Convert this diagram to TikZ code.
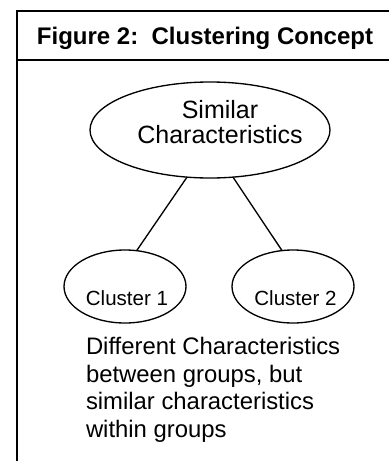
\documentclass[tikz,border=0pt]{standalone}
\usepackage{fontspec}
\setmainfont{Liberation Sans}
\usetikzlibrary{shapes.geometric}
\begin{document}
\begin{tikzpicture}[x=0.75pt,y=-0.75pt,
  frameline/.style={line width=1.5pt,line cap=rect},
  bubble/.style={draw,ellipse,inner sep=0pt,outer sep=0pt,line width=1pt},
  link/.style={line width=1pt},
  txt/.style={inner sep=0pt,outer sep=0pt}]
\useasboundingbox (0,0) rectangle (389,461);
% frame
\coordinate (tl) at (17,11);
\coordinate (tr) at (392,11);
\coordinate (hl) at (17,60);
\coordinate (hr) at (392,60);
\coordinate (bl) at (17,464);
\draw[frameline] (tr) -- (tl) -- (bl);
\draw[frameline] (hl) -- (hr);
\node[txt,anchor=base,font=\fontsize{18}{21}\selectfont\bfseries] (title) at (205,44) {Figure 2:\ \ Clustering Concept};
% ellipses
\node[bubble,minimum width=180pt,minimum height=72pt] (top) at (210,130) {};
\node[bubble,minimum width=91.5pt,minimum height=54.75pt] (c1) at (125,286.5) {};
\node[bubble,minimum width=91.5pt,minimum height=54.75pt] (c2) at (293,286.5) {};
% texts
\node[txt,anchor=base,align=center,font=\fontsize{18.75}{18.75}\selectfont] (simtxt) at (220,143) {Similar\\Characteristics};
\node[txt,anchor=base,font=\fontsize{15.4}{18}\selectfont] (c1txt) at (127,305) {Cluster 1};
\node[txt,anchor=base,font=\fontsize{15.4}{18}\selectfont] (c2txt) at (295.5,305) {Cluster 2};
\node[txt,anchor=base west,align=left,font=\fontsize{17.9}{20.6}\selectfont] (note) at (86,437) {Different Characteristics\\between groups, but\\similar characteristics\\within groups};
% connectors
\draw[link] (top.244) -- (c1.72);
\draw[link] (top.296) -- (c2.107);
\end{tikzpicture}
\end{document}
